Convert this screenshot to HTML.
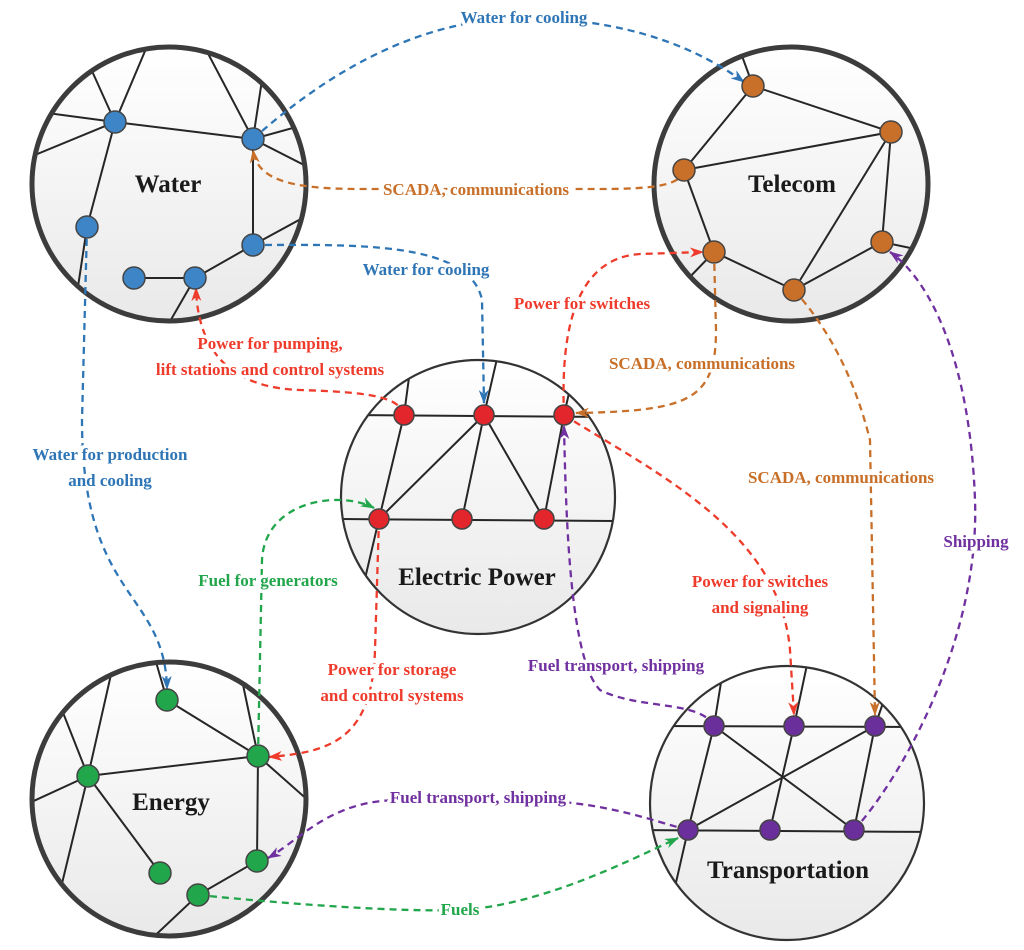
<!DOCTYPE html>
<html><head><meta charset="utf-8"><style>
html,body{margin:0;padding:0;background:#fff}
svg{display:block}
text{font-family:"Liberation Serif",serif;font-weight:bold}
.lbl{font-size:17px;text-anchor:middle;stroke:#fff;stroke-width:7px;paint-order:stroke;stroke-linejoin:round}
.name{font-size:25px;fill:#1a1a1a;text-anchor:middle}
.e{stroke:#262626;stroke-width:2;fill:none}
.d{fill:none;stroke-width:2.3;stroke-dasharray:7,5}
</style></head><body>
<svg width="1024" height="950" viewBox="0 0 1024 950" xmlns="http://www.w3.org/2000/svg">
<defs>
<linearGradient id="g" x1="0" y1="0" x2="0" y2="1"><stop offset="0" stop-color="#ffffff"/><stop offset="1" stop-color="#e9e9e9"/></linearGradient>
<clipPath id="cW"><circle cx="169" cy="184" r="137"/></clipPath>
<clipPath id="cT"><circle cx="791" cy="184" r="137"/></clipPath>
<clipPath id="cE"><circle cx="478" cy="497" r="137"/></clipPath>
<clipPath id="cN"><circle cx="169" cy="799" r="137"/></clipPath>
<clipPath id="cR"><circle cx="787" cy="803" r="137"/></clipPath>
<marker id="ab" markerWidth="14" markerHeight="10" refX="13" refY="5" orient="auto" markerUnits="userSpaceOnUse"><path d="M0,0 L14,5 L0,10 L4,5z" fill="#2e75b6"/></marker>
<marker id="ao" markerWidth="14" markerHeight="10" refX="13" refY="5" orient="auto" markerUnits="userSpaceOnUse"><path d="M0,0 L14,5 L0,10 L4,5z" fill="#c8702a"/></marker>
<marker id="ar" markerWidth="14" markerHeight="10" refX="13" refY="5" orient="auto" markerUnits="userSpaceOnUse"><path d="M0,0 L14,5 L0,10 L4,5z" fill="#ee3b2b"/></marker>
<marker id="ag" markerWidth="14" markerHeight="10" refX="13" refY="5" orient="auto" markerUnits="userSpaceOnUse"><path d="M0,0 L14,5 L0,10 L4,5z" fill="#22a64b"/></marker>
<marker id="ap" markerWidth="14" markerHeight="10" refX="13" refY="5" orient="auto" markerUnits="userSpaceOnUse"><path d="M0,0 L14,5 L0,10 L4,5z" fill="#7030a0"/></marker>
</defs>

<circle cx="169" cy="184" r="137" fill="url(#g)"/>
<circle cx="791" cy="184" r="137" fill="url(#g)"/>
<circle cx="478" cy="497" r="137" fill="url(#g)"/>
<circle cx="169" cy="799" r="137" fill="url(#g)"/>
<circle cx="787" cy="803" r="137" fill="url(#g)"/>

<g clip-path="url(#cW)" class="e">
<path d="M115,122 L92,71 M115,122 L148,44 M115,122 L40,112 M115,122 L30,157 M115,122 L253,139 M115,122 L87,227 L76,300 M253,139 L203,44 M253,139 L262,80 M253,139 L300,126 M253,139 L310,168 M253,139 L253,245 L310,214 M253,245 L195,278 L134,278 M195,278 L165,330"/>
</g>
<g clip-path="url(#cT)" class="e">
<path d="M753,86 L738,45 M753,86 L891,132 M753,86 L684,170 L891,132 M684,170 L714,252 L685,282 M714,252 L794,290 L891,132 L882,242 L794,290 M882,242 L920,250"/>
</g>
<g clip-path="url(#cE)" class="e">
<path d="M340,415 L620,417 M335,519 L620,521 M404,415 L412,355 M404,415 L379,519 L360,600 M484,415 L499,350 M484,415 L379,519 M484,415 L462,519 M484,415 L544,519 L564,415 L572,380"/>
</g>
<g clip-path="url(#cN)" class="e">
<path d="M167,700 L154,655 M167,700 L258,756 L242,680 M258,756 L88,776 M258,756 L310,802 M258,756 L257,861 L198,895 L145,945 M88,776 L112,670 M88,776 L60,705 M88,776 L25,805 M88,776 L58,900 M88,776 L160,873"/>
</g>
<g clip-path="url(#cR)" class="e">
<path d="M640,726 L930,727 M640,830 L935,832 M714,726 L723,670 M794,726 L808,660 M875,726 L884,700 M714,726 L688,830 L672,900 M794,726 L770,830 M875,726 L854,830 M714,726 L854,830 M875,726 L688,830"/>
</g>

<circle cx="169" cy="184" r="137" fill="none" stroke="#3c3c3c" stroke-width="5"/>
<circle cx="791" cy="184" r="137" fill="none" stroke="#3c3c3c" stroke-width="5"/>
<circle cx="478" cy="497" r="137" fill="none" stroke="#333" stroke-width="2.2"/>
<circle cx="169" cy="799" r="137" fill="none" stroke="#3c3c3c" stroke-width="5"/>
<circle cx="787" cy="803" r="137" fill="none" stroke="#333" stroke-width="2.2"/>

<path class="d" stroke="#2e75b6" marker-end="url(#ab)" d="M253,139 C330,70 420,20 520,18 C630,18 700,50 744,82"/>
<path class="d" stroke="#c8702a" marker-end="url(#ao)" d="M684,170 C682,186 650,189 600,189 L360,189 C285,189 257,178 253,150"/>
<path class="d" stroke="#2e75b6" marker-end="url(#ab)" d="M253,245 C350,245 470,240 482,300 L484,403"/>
<path class="d" stroke="#ee3b2b" marker-end="url(#ar)" d="M564,415 C560,320 580,258 640,254 L703,252"/>
<path class="d" stroke="#ee3b2b" marker-end="url(#ar)" d="M404,415 C400,395 360,392 300,390 C240,388 198,360 196,288"/>
<path class="d" stroke="#c8702a" marker-end="url(#ao)" d="M714,252 L716,330 C716,400 690,411 576,413"/>
<path class="d" stroke="#c8702a" marker-end="url(#ao)" d="M794,290 C830,330 855,380 870,440 L875,715"/>
<path class="d" stroke="#7030a0" marker-end="url(#ap)" d="M854,830 C900,780 980,640 975,500 C970,360 930,280 890,252"/>
<path class="d" stroke="#ee3b2b" marker-end="url(#ar)" d="M564,415 C650,470 780,530 790,650 L794,715"/>
<path class="d" stroke="#7030a0" marker-end="url(#ap)" d="M714,726 C700,700 640,710 600,690 C570,660 566,520 564,426"/>
<path class="d" stroke="#2e75b6" marker-end="url(#ab)" d="M87,227 L82,420 C82,600 165,590 167,689"/>
<path class="d" stroke="#22a64b" marker-end="url(#ag)" d="M258,756 L262,560 C265,500 340,490 374,508"/>
<path class="d" stroke="#ee3b2b" marker-end="url(#ar)" d="M379,519 L375,650 C372,740 330,752 269,757"/>
<path class="d" stroke="#7030a0" marker-end="url(#ap)" d="M688,830 C650,820 600,800 520,800 L400,800 C330,800 300,840 268,858"/>
<path class="d" stroke="#22a64b" marker-end="url(#ag)" d="M198,895 C300,905 400,912 460,910 C540,905 620,865 678,838"/>

<g stroke="#444" stroke-width="1.5">
<g fill="#3d85c6"><circle cx="115" cy="122" r="11"/><circle cx="253" cy="139" r="11"/><circle cx="87" cy="227" r="11"/><circle cx="253" cy="245" r="11"/><circle cx="195" cy="278" r="11"/><circle cx="134" cy="278" r="11"/></g>
<g fill="#c8702a"><circle cx="753" cy="86" r="11"/><circle cx="891" cy="132" r="11"/><circle cx="684" cy="170" r="11"/><circle cx="714" cy="252" r="11"/><circle cx="882" cy="242" r="11"/><circle cx="794" cy="290" r="11"/></g>
<g fill="#e3262b"><circle cx="404" cy="415" r="10"/><circle cx="484" cy="415" r="10"/><circle cx="564" cy="415" r="10"/><circle cx="379" cy="519" r="10"/><circle cx="462" cy="519" r="10"/><circle cx="544" cy="519" r="10"/></g>
<g fill="#22a64b"><circle cx="167" cy="700" r="11"/><circle cx="88" cy="776" r="11"/><circle cx="258" cy="756" r="11"/><circle cx="160" cy="873" r="11"/><circle cx="257" cy="861" r="11"/><circle cx="198" cy="895" r="11"/></g>
<g fill="#6a2f9a"><circle cx="714" cy="726" r="10"/><circle cx="794" cy="726" r="10"/><circle cx="875" cy="726" r="10"/><circle cx="688" cy="830" r="10"/><circle cx="770" cy="830" r="10"/><circle cx="854" cy="830" r="10"/></g>
</g>

<text class="name" x="168" y="192">Water</text>
<text class="name" x="792" y="192">Telecom</text>
<text class="name" x="477" y="585">Electric Power</text>
<text class="name" x="171" y="810">Energy</text>
<text class="name" x="788" y="878">Transportation</text>

<text class="lbl" fill="#2e75b6" x="524" y="23">Water for cooling</text>
<text class="lbl" fill="#c8702a" x="476" y="195">SCADA, communications</text>
<text class="lbl" fill="#2e75b6" x="426" y="275">Water for cooling</text>
<text class="lbl" fill="#ee3b2b" x="582" y="309">Power for switches</text>
<text class="lbl" fill="#ee3b2b" x="270" y="349">Power for pumping,</text>
<text class="lbl" fill="#ee3b2b" x="270" y="375">lift stations and control systems</text>
<text class="lbl" fill="#c8702a" x="702" y="369">SCADA, communications</text>
<text class="lbl" fill="#2e75b6" x="110" y="460">Water for production</text>
<text class="lbl" fill="#2e75b6" x="110" y="486">and cooling</text>
<text class="lbl" fill="#c8702a" x="841" y="483">SCADA, communications</text>
<text class="lbl" fill="#7030a0" x="976" y="547">Shipping</text>
<text class="lbl" fill="#22a64b" x="268" y="586">Fuel for generators</text>
<text class="lbl" fill="#ee3b2b" x="760" y="587">Power for switches</text>
<text class="lbl" fill="#ee3b2b" x="760" y="613">and signaling</text>
<text class="lbl" fill="#7030a0" x="616" y="671">Fuel transport, shipping</text>
<text class="lbl" fill="#ee3b2b" x="392" y="675">Power for storage</text>
<text class="lbl" fill="#ee3b2b" x="392" y="701">and control systems</text>
<text class="lbl" fill="#7030a0" x="478" y="803">Fuel transport, shipping</text>
<text class="lbl" fill="#22a64b" x="460" y="915">Fuels</text>
</svg>
</body></html>
